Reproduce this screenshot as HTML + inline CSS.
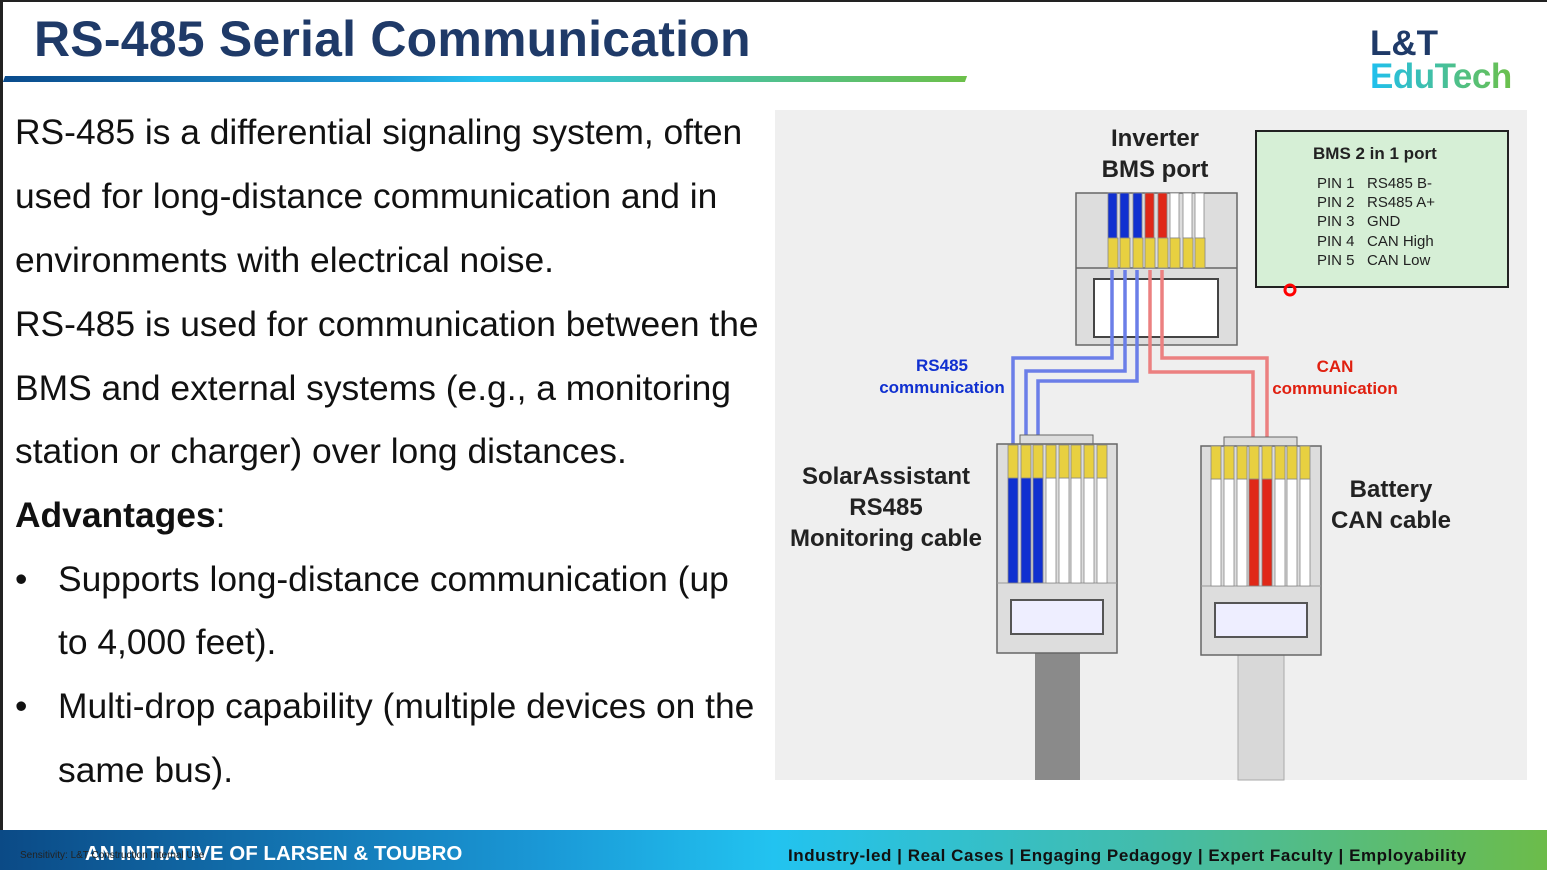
<!DOCTYPE html>
<html><head><meta charset="utf-8"><style>
body{margin:0;width:1547px;height:870px;overflow:hidden;background:#fff;font-family:"Liberation Sans",sans-serif;position:relative}
.t{position:absolute;font-size:35.4px;color:#111;white-space:nowrap;line-height:40px}
</style></head><body>
<div style="position:absolute;left:0;top:0;width:3px;height:870px;background:#222"></div>
<div style="position:absolute;left:0;top:0;width:1547px;height:2px;background:#222"></div>
<div style="position:absolute;left:34px;top:10px;font-size:50px;font-weight:bold;color:#1f3a68;line-height:58px;letter-spacing:0.2px">RS-485 Serial Communication</div>
<div style="position:absolute;left:4px;top:76px;width:962px;height:6px;background:linear-gradient(90deg,#0a4b8c,#1f9ad8 40%,#28c2ef 50%,#6cc04a);transform:skewX(-20deg)"></div>
<div style="position:absolute;left:1370px;top:26px;font-size:35px;font-weight:bold;color:#1f3a68;line-height:36px">L&amp;T</div>
<div style="position:absolute;left:1370px;top:58px;font-size:35px;font-weight:bold;line-height:38px;letter-spacing:-0.5px;background:linear-gradient(90deg,#1fbfef,#6cc04a);-webkit-background-clip:text;color:transparent">EduTech</div>

<div class="t" style="left:15px;top:112px">RS-485 is a differential signaling system, often</div>
<div class="t" style="left:15px;top:176px">used for long-distance communication and in</div>
<div class="t" style="left:15px;top:240px">environments with electrical noise.</div>
<div class="t" style="left:15px;top:304px">RS-485 is used for communication between the</div>
<div class="t" style="left:15px;top:368px">BMS and external systems (e.g., a monitoring</div>
<div class="t" style="left:15px;top:431px">station or charger) over long distances.</div>
<div class="t" style="left:15px;top:495px"><b>Advantages</b>:</div>
<div class="t" style="left:15px;top:559px">•</div><div class="t" style="left:58px;top:559px">Supports long-distance communication (up</div>
<div class="t" style="left:58px;top:622px">to 4,000 feet).</div>
<div class="t" style="left:15px;top:686px">•</div><div class="t" style="left:58px;top:686px">Multi-drop capability (multiple devices on the</div>
<div class="t" style="left:58px;top:750px">same bus).</div>

<svg style="position:absolute;left:0;top:0" width="1547" height="870">
<rect x="775" y="110" width="752" height="670" fill="#efefef"/>
<g font-family="Liberation Sans,sans-serif" font-weight="bold" text-anchor="middle">
<text x="1155" y="146" font-size="24" fill="#222">Inverter</text>
<text x="1155" y="177" font-size="24" fill="#222">BMS port</text>
<text x="942" y="371" font-size="17" fill="#1030d0">RS485</text>
<text x="942" y="393" font-size="17" fill="#1030d0">communication</text>
<text x="1335" y="372" font-size="17" fill="#e02010">CAN</text>
<text x="1335" y="394" font-size="17" fill="#e02010">communication</text>
<text x="886" y="484" font-size="24" fill="#222">SolarAssistant</text>
<text x="886" y="515" font-size="24" fill="#222">RS485</text>
<text x="886" y="546" font-size="24" fill="#222">Monitoring cable</text>
<text x="1391" y="497" font-size="24" fill="#222">Battery</text>
<text x="1391" y="528" font-size="24" fill="#222">CAN cable</text>
</g>
<rect x="1256" y="131" width="252" height="156" fill="#d6efd6" stroke="#222" stroke-width="2"/>
<g font-family="Liberation Sans,sans-serif" font-size="15" fill="#222">
<text x="1313" y="159" font-weight="bold" font-size="17">BMS 2 in 1 port</text>
<text x="1317" y="188">PIN 1</text><text x="1367" y="188">RS485 B-</text>
<text x="1317" y="207">PIN 2</text><text x="1367" y="207">RS485 A+</text>
<text x="1317" y="226">PIN 3</text><text x="1367" y="226">GND</text>
<text x="1317" y="246">PIN 4</text><text x="1367" y="246">CAN High</text>
<text x="1317" y="265">PIN 5</text><text x="1367" y="265">CAN Low</text>
</g>
<circle cx="1290" cy="290" r="5" fill="none" stroke="#f00" stroke-width="3"/>
<rect x="1076" y="193" width="161" height="152" fill="#ddd" stroke="#666" stroke-width="1.5"/>
<line x1="1076" y1="268" x2="1237" y2="268" stroke="#666" stroke-width="1.5"/>
<rect x="1094" y="279" width="124" height="58" fill="#fff" stroke="#444" stroke-width="2"/>
<g stroke="#888" stroke-width="0.8">
<rect x="1108" y="193" width="9" height="45" fill="#1030d0"/>
<rect x="1120" y="193" width="9" height="45" fill="#1030d0"/>
<rect x="1133" y="193" width="9" height="45" fill="#1030d0"/>
<rect x="1145" y="193" width="9" height="45" fill="#e02818"/>
<rect x="1158" y="193" width="9" height="45" fill="#e02818"/>
<rect x="1170" y="193" width="9" height="45" fill="#fff"/>
<rect x="1183" y="193" width="9" height="45" fill="#fff"/>
<rect x="1195" y="193" width="9" height="45" fill="#fff"/>
</g>
<g fill="#e8d040" stroke="#888" stroke-width="0.8">
<rect x="1108" y="238" width="10" height="30"/><rect x="1120" y="238" width="10" height="30"/><rect x="1133" y="238" width="10" height="30"/><rect x="1145" y="238" width="10" height="30"/><rect x="1158" y="238" width="10" height="30"/><rect x="1170" y="238" width="10" height="30"/><rect x="1183" y="238" width="10" height="30"/><rect x="1195" y="238" width="10" height="30"/>
</g>
<g fill="none" stroke-width="3.5">
<path d="M1112 270 V358 H1013 V445" stroke="#6b7ee8"/>
<path d="M1125 270 V371 H1026 V445" stroke="#6b7ee8"/>
<path d="M1137 270 V381 H1038 V445" stroke="#6b7ee8"/>
<path d="M1150 270 V372 H1253 V445" stroke="#ec8080"/>
<path d="M1162 270 V358 H1267 V445" stroke="#ec8080"/>
</g>
<rect x="1035" y="653" width="45" height="127" fill="#8a8a8a"/>
<rect x="1020" y="435" width="73" height="12" fill="#ddd" stroke="#666"/>
<rect x="997" y="444" width="120" height="209" fill="#ddd" stroke="#666" stroke-width="1.5"/>
<line x1="997" y1="583" x2="1117" y2="583" stroke="#999"/>
<rect x="1011" y="600" width="92" height="34" fill="#eef" stroke="#555" stroke-width="2"/>
<g stroke="#888" stroke-width="0.8">
<rect x="1008" y="478" width="10" height="105" fill="#1030d0"/><rect x="1021" y="478" width="10" height="105" fill="#1030d0"/><rect x="1033" y="478" width="10" height="105" fill="#1030d0"/><rect x="1046" y="478" width="10" height="105" fill="#fff"/><rect x="1059" y="478" width="10" height="105" fill="#fff"/><rect x="1071" y="478" width="10" height="105" fill="#fff"/><rect x="1084" y="478" width="10" height="105" fill="#fff"/><rect x="1097" y="478" width="10" height="105" fill="#fff"/>
</g>
<g fill="#e8d040" stroke="#888" stroke-width="0.8">
<rect x="1008" y="445" width="10" height="33"/><rect x="1021" y="445" width="10" height="33"/><rect x="1033" y="445" width="10" height="33"/><rect x="1046" y="445" width="10" height="33"/><rect x="1059" y="445" width="10" height="33"/><rect x="1071" y="445" width="10" height="33"/><rect x="1084" y="445" width="10" height="33"/><rect x="1097" y="445" width="10" height="33"/>
</g>
<rect x="1238" y="655" width="46" height="125" fill="#d8d8d8" stroke="#aaa"/>
<rect x="1224" y="437" width="73" height="12" fill="#ddd" stroke="#666"/>
<rect x="1201" y="446" width="120" height="209" fill="#ddd" stroke="#666" stroke-width="1.5"/>
<line x1="1201" y1="586" x2="1321" y2="586" stroke="#999"/>
<rect x="1215" y="603" width="92" height="34" fill="#eef" stroke="#555" stroke-width="2"/>
<g stroke="#888" stroke-width="0.8">
<rect x="1211" y="479" width="10" height="107" fill="#fff"/><rect x="1224" y="479" width="10" height="107" fill="#fff"/><rect x="1237" y="479" width="10" height="107" fill="#fff"/><rect x="1249" y="479" width="10" height="107" fill="#e02818"/><rect x="1262" y="479" width="10" height="107" fill="#e02818"/><rect x="1275" y="479" width="10" height="107" fill="#fff"/><rect x="1287" y="479" width="10" height="107" fill="#fff"/><rect x="1300" y="479" width="10" height="107" fill="#fff"/>
</g>
<g fill="#e8d040" stroke="#888" stroke-width="0.8">
<rect x="1211" y="446" width="10" height="33"/><rect x="1224" y="446" width="10" height="33"/><rect x="1237" y="446" width="10" height="33"/><rect x="1249" y="446" width="10" height="33"/><rect x="1262" y="446" width="10" height="33"/><rect x="1275" y="446" width="10" height="33"/><rect x="1287" y="446" width="10" height="33"/><rect x="1300" y="446" width="10" height="33"/>
</g>
</svg>

<div style="position:absolute;left:0;top:830px;width:1547px;height:40px;background:linear-gradient(90deg,#0b4a86,#1a98d6 35%,#22c3f0 50%,#44bca8 75%,#6cbc4a)"></div>
<div style="position:absolute;left:85px;top:842px;font-size:20.5px;font-weight:bold;color:#fff">AN INITIATIVE OF LARSEN &amp; TOUBRO</div>
<div style="position:absolute;left:20px;top:850px;font-size:10px;color:#222">Sensitivity: L&amp;T Construction Internal Use</div>
<div style="position:absolute;left:788px;top:846px;font-size:17px;font-weight:bold;color:#111;letter-spacing:0.55px">Industry-led | Real Cases | Engaging Pedagogy | Expert Faculty | Employability</div>
</body></html>
